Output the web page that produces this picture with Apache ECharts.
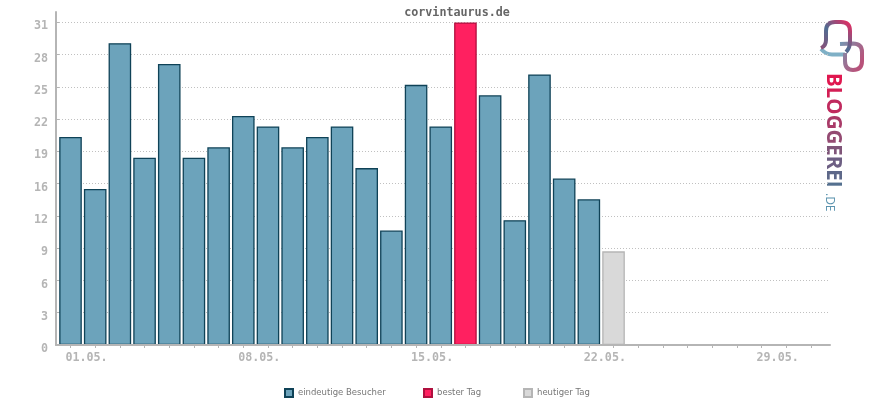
<!DOCTYPE html>
<html>
<head>
<meta charset="utf-8">
<style>html,body{margin:0;padding:0;background:#fff}#chart{width:870px;height:400px}</style>
<script src="https://cdn.jsdelivr.net/npm/echarts@6/dist/echarts.min.js"></script>
</head>
<body>
<div id="chart"></div>
<script>
const days = [1,2,3,4,5,6,7,8,9,10,11,12,13,14,15,16,17,18,19,20,21,22,23];
const visitors = [20,15,29,18,27,18,19,22,21,19,20,21,17,11,25,21,null,24,12,26,16,14,null];
const best = [null,null,null,null,null,null,null,null,null,null,null,null,null,null,null,null,31,null,null,null,null,null,null];
const today = [null,null,null,null,null,null,null,null,null,null,null,null,null,null,null,null,null,null,null,null,null,null,9];
const tickDays = [1,2,3,4,5,6,7,8,9,10,11,12,13,14,15,16,17,18,19,20,21,22,23,24,25,26,27,28,29,30,31];
const labelDays = [1,8,15,22,29];
const yTicks = [0,3.1,6.2,9.3,12.4,15.5,18.6,21.7,24.8,27.9,31];
const logoLetters = ['B','L','O','G','G','E','R','E','I'];
const logoColors = ['#e0174f','#d31f55','#c02a5e','#a93a68','#944a72','#7f5579','#6d5f83','#5e6889','#54708f'];

const pairs = arr => days.map((d, i) => [d, arr[i]]);
const grey = '#b5b5b5';
const mono = '"DejaVu Sans Mono", monospace';

// logo outlines, the graphic component has no plain path type
echarts.graphic.registerShape('logoBubble', echarts.graphic.extendPath('M821 48 Q826 46 826 40 L826 31 Q826 22 835 22 L841 22 Q850 22 850 31 L850 42 Q850 48 846 52', {}));
echarts.graphic.registerShape('logoTail', echarts.graphic.extendPath('M821 49 Q826 54.5 832 54.5 L845 54.5', {}));
echarts.graphic.registerShape('logoRing', echarts.graphic.extendPath('M840 44 L853 43.5 Q862 43.5 862 52 L862 61 Q862 70 853 70 Q845 70 845 61 L845 53', {}));

const chart = echarts.init(document.getElementById('chart'));

const barSeries = (name, data, fill, border) => ({
  name, type: 'bar', data: pairs(data), barWidth: 22.6, barGap: '-100%',
  itemStyle: { color: fill, borderColor: border, borderWidth: 1.3 }
});

const legendAt = (name, left) => ({
  data: [name], left, top: 388, padding: 0, itemWidth: 8, itemHeight: 8, icon: 'rect',
  textStyle: { fontFamily: '"DejaVu Sans"', fontSize: 8.5, color: '#777' }
});

const logoStroke = (x2, y2, stops) => new echarts.graphic.LinearGradient(0, y2 < 0 ? 1 : 0, x2, y2 < 0 ? 0 : y2,
  stops.map((color, i) => ({ offset: i / (stops.length - 1), color })));

const logoRich = {};
logoLetters.forEach((l, i) => {
  logoRich['c' + i] = { fill: logoColors[i], font: 'bold 20.5px "Open Sans"' };
});

chart.setOption({
  animation: false,
  title: {
    text: 'corvintaurus.de', left: 452, textAlign: 'center', top: 2,
    textStyle: { fontFamily: mono, fontSize: 11.7, fontWeight: 'bold', color: '#666' }
  },
  legend: [
    legendAt('eindeutige Besucher', 284),
    legendAt('bester Tag', 423),
    legendAt('heutiger Tag', 523)
  ],
  grid: { left: 56, right: 40, top: 12, bottom: 55 },
  xAxis: {
    type: 'value', min: 0.412, max: 31.77, z: 5,
    axisLine: { lineStyle: { color: grey, width: 2 } },
    axisTick: { customValues: tickDays, length: 3, lineStyle: { color: grey } },
    axisLabel: {
      customValues: labelDays, color: grey, fontFamily: mono, fontSize: 11.7, fontWeight: 'bold',
      margin: 7, padding: [0, 0, 0, 32], hideOverlap: false,
      formatter: v => String(v).padStart(2, '0') + '.05.'
    },
    splitLine: { show: false }
  },
  yAxis: {
    type: 'value', min: 0, max: 32,
    axisLine: { show: true, lineStyle: { color: grey, width: 2 } },
    axisTick: { show: true, customValues: yTicks, inside: true, length: 3, lineStyle: { color: grey } },
    axisLabel: {
      customValues: yTicks, margin: 8,
      rich: { t: { color: grey, fontFamily: mono, fontSize: 11.7, fontWeight: 'bold', padding: [8, 0, 0, 0] } },
      formatter: v => '{t|' + Math.round(v) + '}'
    },
    splitLine: { show: true, lineStyle: { color: '#c0c0c0', type: [1, 2], width: 1 } }
  },
  series: [
    barSeries('eindeutige Besucher', visitors, '#6ca3bb', '#0f4257'),
    barSeries('bester Tag', best, '#ff2060', '#b0103f'),
    barSeries('heutiger Tag', today, '#d9d9d9', grey)
  ],
  graphic: [
    { type: 'logoTail', style: { fill: null, stroke: '#7fb0c6', lineWidth: 4 } },
    { type: 'logoRing', style: { fill: null, stroke: logoStroke(1, 0.5, ['#6f9fb8', '#b8527a']), lineWidth: 4 } },
    { type: 'logoBubble', style: { fill: null, stroke: logoStroke(1, -1, ['#a0446f', '#4f6d92', '#ff1f58']), lineWidth: 4 } },
    { type: 'text', x: 822, y: 73, rotation: -Math.PI / 2,
      style: {
        text: logoLetters.map((l, i) => '{c' + i + '|' + l + '}').join(''),
        rich: logoRich, verticalAlign: 'bottom', align: 'left'
      } },
    { type: 'text', x: 823, y: 193, rotation: -Math.PI / 2,
      style: { text: '.DE', font: '12px "Open Sans"', verticalAlign: 'bottom', align: 'left', fill: '#5a93ae' } }
  ]
});
</script>
</body>
</html>
